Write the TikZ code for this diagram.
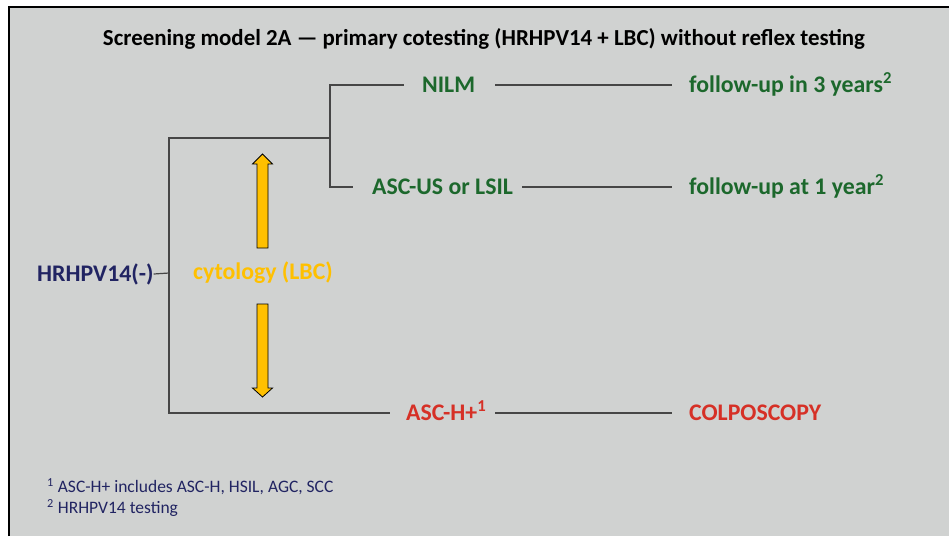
\documentclass[tikz,border=0pt]{standalone}
\usepackage{fontspec}
\setmainfont{Carlito}
\usetikzlibrary{calc}

\definecolor{panelgray}{RGB}{208,210,209}
\definecolor{linegray}{RGB}{70,70,70}
\definecolor{hpvnavy}{RGB}{33,36,98}
\definecolor{okgreen}{RGB}{28,104,44}
\definecolor{alertred}{RGB}{214,48,38}
\definecolor{cytoyellow}{RGB}{255,192,0}

\begin{document}
\begin{tikzpicture} [x=1pt,
        y=-1pt,
        link/.style={draw=linegray, line width=1.2pt},
        result/.style={font=\fontsize{23.8}{28}\selectfont\bfseries,
                inner sep=0pt, anchor=west,
                text height=15.3pt, text depth=0pt},
        note/.style={font=\fontsize{17.5}{20}\selectfont, text=hpvnavy,
                inner sep=0pt, anchor=west},
        yarrow/.style={draw=black, fill=cytoyellow, line width=0.8pt}]

    \useasboundingbox (0, 0) rectangle (949, 536);

    % panel
    \fill [panelgray] (9, 7) rectangle (949, 536);
    \draw [black, line width=1.5pt] (9, 536) -- (9, 7) -- (949, 7);

    \node [
        font = \fontsize{22.9}{26}\selectfont\bfseries,
        inner sep = 0pt,
        text height = 14.7pt,
        text depth = 0pt
    ] (title) at (484, 38) {Screening model 2A --- primary cotesting (HRHPV14 + LBC) without reflex testing};

    \node [
        result,
        text = hpvnavy
    ] (hpv) at (37, 274) {HRHPV14(-)};

    \node [
        result,
        text = cytoyellow
    ] (cyto) at (193, 272) {cytology (LBC)};

    \node [
        result,
        text = okgreen
    ] (nilm) at (422, 85) {NILM};

    \node [
        result,
        text = okgreen
    ] (ascus) at (372, 187) {ASC-US or LSIL};

    \node [
        result,
        text = alertred
    ] (asch) at (406, 413) {ASC-H+\textsuperscript{1}};

    \node [
        result,
        text = okgreen
    ] (fu3) at (689, 85) {follow-up in 3 years\textsuperscript{2}};

    \node [
        result,
        text = okgreen
    ] (fu1) at (689, 187) {follow-up at 1 year\textsuperscript{2}};

    \node [
        result,
        text = alertred
    ] (colpo) at (689, 413) {COLPOSCOPY};

    \node [note] (fn1) at (47, 487) {\textsuperscript{1} ASC-H+ includes ASC-H, HSIL, AGC, SCC};
    \node [note] (fn2) at (47, 508) {\textsuperscript{2} HRHPV14 testing};

    % branching
    \coordinate (split1) at (169, 273);
    \coordinate (split2) at (330, 138);

    \draw [link] (hpv.east) -- (split1);
    \draw [link] (split1) |- (split2);
    \draw [link] (split1) |- ([xshift=-16pt]asch.west);
    \draw [link] (split2) |- ([xshift=-18pt]nilm.west);
    \draw [link] (split2) |- ([xshift=-19pt]ascus.west);

    \draw [link] ([xshift=20pt]nilm.east) -- ([xshift=-17pt]fu3.west);
    \draw [link] ([xshift=9pt]ascus.east) -- ([xshift=-17pt]fu1.west);
    \draw [link] ([xshift=9pt]asch.east) -- ([xshift=-17pt]colpo.west);

    % cytology arrows
    \draw [yarrow] (257, 248) -- (257, 164) -- (252.5, 164) -- (262.5, 154)
        -- (272.5, 164) -- (268, 164) -- (268, 248) -- cycle;
    \draw [yarrow] (257, 304) -- (257, 388) -- (252.5, 388) -- (262.5, 397)
        -- (272.5, 388) -- (268, 388) -- (268, 304) -- cycle;

\end{tikzpicture}
\end{document}
